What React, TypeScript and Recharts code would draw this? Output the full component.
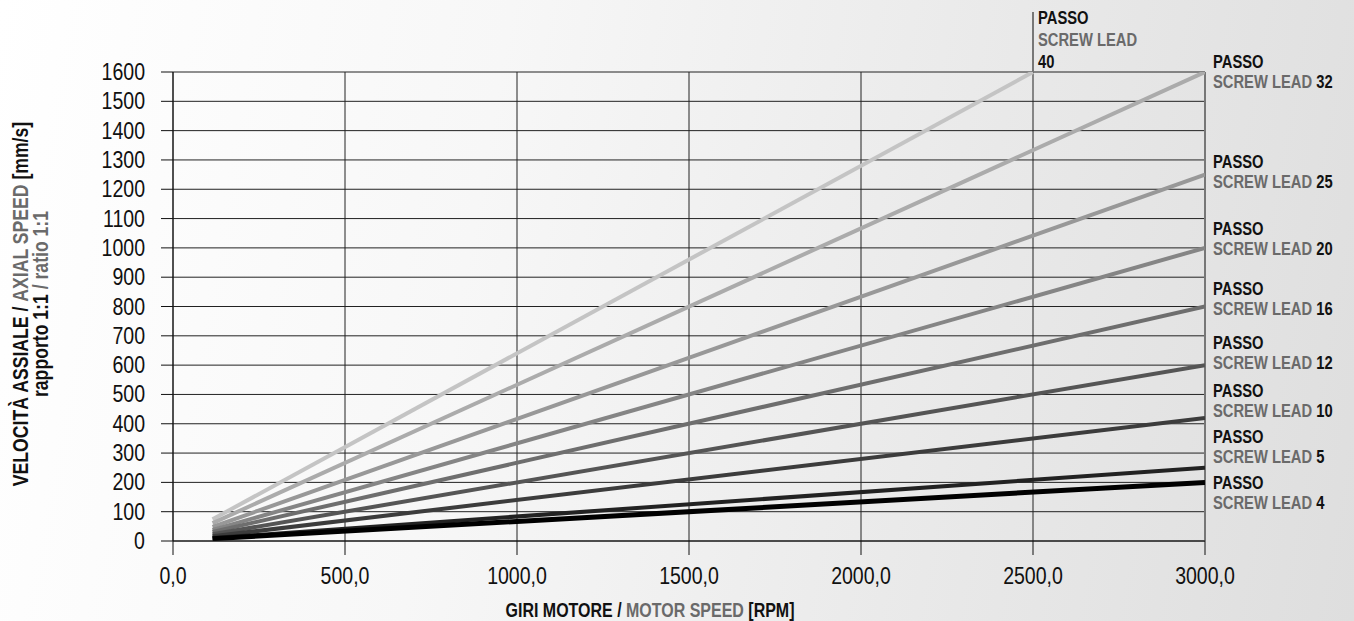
import {
  LineChart,
  Line,
  XAxis,
  YAxis,
  CartesianGrid,
  ReferenceLine,
  ReferenceDot,
  Label,
} from "recharts";

// no condensed font installed: use Liberation Sans squeezed horizontally
const FONT = '"Liberation Sans", Arial, sans-serif';
const GREY = "#6a6a6a";

// screw leads (mm/rev), one line each
const leads = ["40", "32", "25", "20", "16", "12", "10", "5", "4"];
const startRpm = [115, 115, 115, 115, 115, 115, 115, 115, 115];
const endRpm = [2500, 3000, 3000, 3000, 3000, 3000, 3000, 3000, 3000];
const startSpeed = [74, 61, 48, 38, 31, 23, 16, 10, 8];
const endSpeed = [1600, 1600, 1250, 1000, 800, 600, 420, 250, 200];
// where the "SCREW LEAD n" caption sits (mm/s)
const labelSpeed = [1634, 1566, 1225, 996, 791, 607, 443, 287, 130];
const colors = ["#c4c4c4", "#ababab", "#989898", "#858585", "#6e6e6e", "#555555", "#3c3c3c", "#222222", "#000000"];

const xTicks = [0, 500, 1000, 1500, 2000, 2500, 3000];
const yTicks = [0, 100, 200, 300, 400, 500, 600, 700, 800, 900, 1000, 1100, 1200, 1300, 1400, 1500, 1600];

const series = leads.map((lead, i) => ({
  lead,
  color: colors[i],
  points: [
    { rpm: startRpm[i], speed: startSpeed[i] },
    { rpm: endRpm[i], speed: endSpeed[i] },
  ],
}));

// squeezed text helper
function Narrow({ x, y, children, anchor = "start", size, bold = false, fill = "#111", sx = 0.82, rotate = 0, baseline }: any) {
  const rot = rotate ? ` rotate(${rotate})` : "";
  return (
    <text
      transform={`translate(${x},${y})${rot} scale(${sx},1)`}
      textAnchor={anchor}
      dominantBaseline={baseline}
      fill={fill}
      style={{ fontFamily: FONT, fontSize: size, fontWeight: bold ? 700 : 400 }}
    >
      {children}
    </text>
  );
}

const XTick = (p: any) => (
  <Narrow x={p.x} y={p.y + 17} anchor="middle" size={23} sx={0.85}>
    {Number(p.payload.value).toFixed(1).replace(".", ",")}
  </Narrow>
);

const YTick = (p: any) => (
  <Narrow x={p.x} y={p.y + 8} anchor="end" size={23} sx={0.85}>
    {p.payload.value}
  </Narrow>
);

function LeadCaption(lead: string, top: boolean) {
  return (p: any) => {
    if (top) {
      const x = p.cx + 5;
      return (
        <g>
          <Narrow x={x} y={p.cy - 38} size={18} bold>PASSO</Narrow>
          <Narrow x={x} y={p.cy - 16} size={18} bold fill={GREY}>SCREW LEAD</Narrow>
          <Narrow x={x} y={p.cy + 6} size={18} bold>{lead}</Narrow>
        </g>
      );
    }
    const x = p.cx + 8;
    return (
      <g>
        <Narrow x={x} y={p.cy - 14} size={18} bold>PASSO</Narrow>
        <Narrow x={x} y={p.cy + 6} size={18} bold fill={GREY}>
          SCREW LEAD <tspan fill="#111">{lead}</tspan>
        </Narrow>
      </g>
    );
  };
}

const XTitle = () => (
  <Narrow x={650} y={617} anchor="middle" size={19.5} bold>
    GIRI MOTORE / <tspan fill={GREY}>MOTOR SPEED</tspan> [RPM]
  </Narrow>
);

const YTitle = () => (
  <g>
    <Narrow x={28} y={304} rotate={-90} anchor="middle" size={21.5} bold>
      VELOCITÀ ASSIALE / <tspan fill={GREY}>AXIAL SPEED</tspan> [mm/s]
    </Narrow>
    <Narrow x={48} y={304} rotate={-90} anchor="middle" size={21.5} bold>
      rapporto 1:1 <tspan fill={GREY}>/ ratio 1:1</tspan>
    </Narrow>
  </g>
);

export default function App() {
  return (
    <div
      style={{
        position: "absolute",
        left: 0,
        top: 0,
        width: 1354,
        height: 621,
        background: "linear-gradient(100deg, #ffffff 0%, #f7f7f7 35%, #e9e9e9 70%, #dedede 100%)",
      }}
    >
      <LineChart width={1354} height={621} margin={{ top: 72, right: 149, bottom: 0, left: 0 }}>
        <CartesianGrid stroke="#222" strokeWidth={1} />
        <XAxis
          dataKey="rpm"
          type="number"
          domain={[0, 3000]}
          ticks={xTicks}
          interval={0}
          allowDataOverflow
          tickSize={14}
          tickMargin={12}
          height={80}
          stroke="#111"
          tick={XTick}
        >
          <Label content={XTitle} />
        </XAxis>
        <YAxis
          type="number"
          domain={[0, 1600]}
          ticks={yTicks}
          interval={0}
          allowDataOverflow
          width={173}
          tickSize={12}
          tickMargin={16}
          stroke="#111"
          tick={YTick}
        >
          <Label content={YTitle} />
        </YAxis>
        <ReferenceLine x={3000} stroke="#777" strokeWidth={2} />
        <ReferenceLine
          segment={[
            { x: 2500, y: 1600 },
            { x: 2500, y: 1805 },
          ]}
          stroke="#777"
          strokeWidth={2}
          ifOverflow="visible"
        />
        {series.map((s) => (
          <Line
            key={s.lead}
            data={s.points}
            dataKey="speed"
            type="linear"
            stroke={s.color}
            strokeWidth={s.lead === "4" ? 5 : 4}
            dot={false}
            activeDot={false}
            isAnimationActive={false}
          />
        ))}
        {series.map((s, i) => (
          <ReferenceDot
            key={"lbl" + s.lead}
            x={endRpm[i]}
            y={labelSpeed[i]}
            r={1}
            ifOverflow="visible"
            shape={LeadCaption(s.lead, i === 0)}
          />
        ))}
      </LineChart>
    </div>
  );
}
